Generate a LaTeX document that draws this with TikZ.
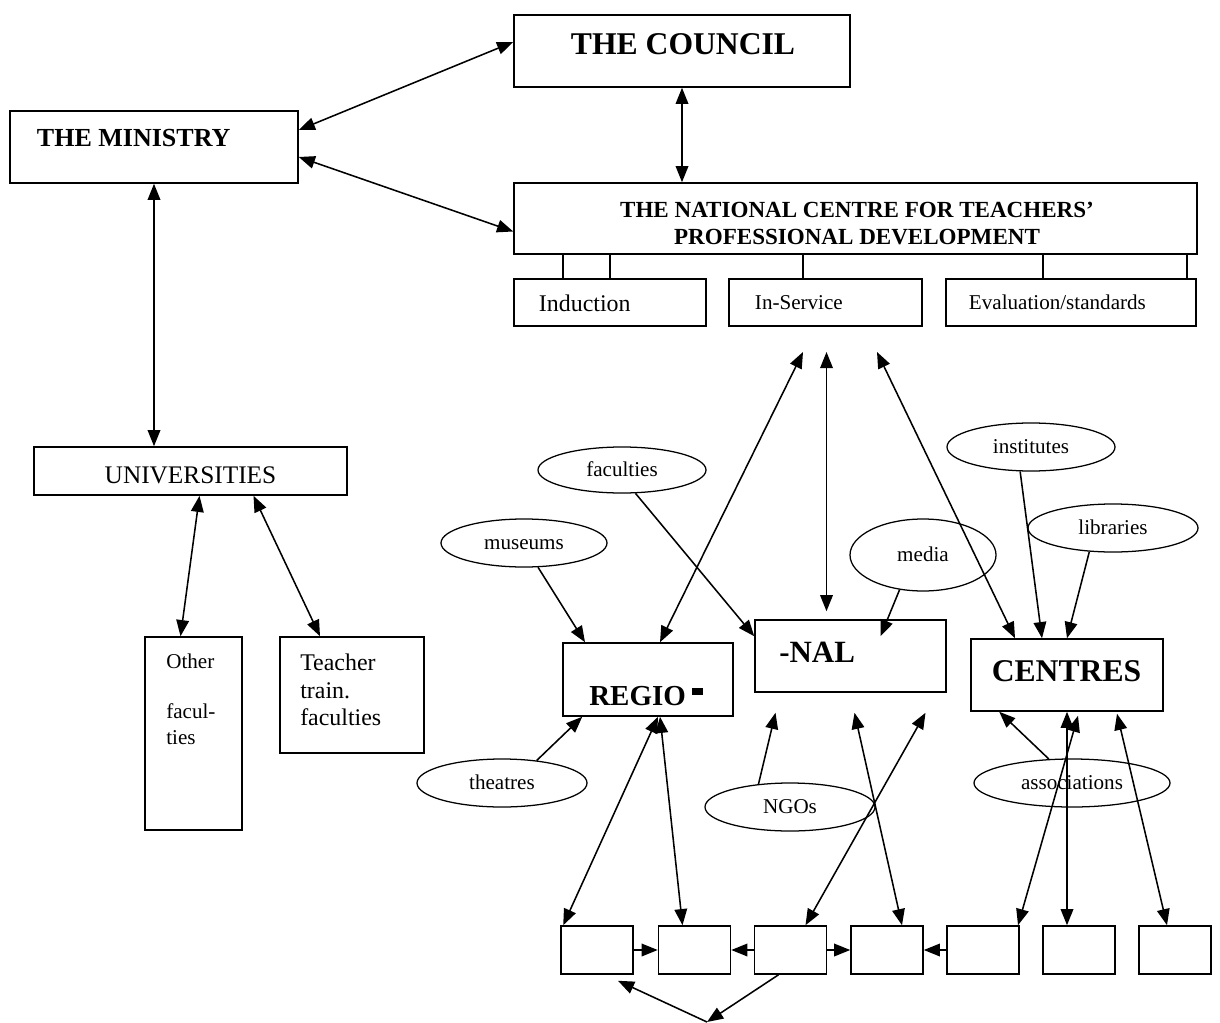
\documentclass[tikz,border=0pt]{standalone}
\usepackage{fontspec}
\setmainfont{Liberation Serif}
\usetikzlibrary{arrows.meta,shapes.geometric,calc}

\def\pix{0.025cm}

\tikzset{
  box/.style 2 args={draw, line width=1.1pt, inner sep=0pt,
    minimum width=#1*\pix, minimum height=#2*\pix},
  oval/.style 2 args={draw, ellipse, line width=0.9pt, inner sep=0pt,
    minimum width=#1*\pix, minimum height=#2*\pix,
    text height=1.9ex, text depth=0pt, font=\fontsize{15}{18}\selectfont},
  link/.style={line width=1.1pt},
}

\begin{document}
\begin{tikzpicture}[x=\pix, y=-\pix, >={Triangle[length=11.5pt,width=9pt]}]
    \useasboundingbox (0,0) rectangle (1220,1023);

    % Define boxes
    \node[box={336}{72}] (council) at (682,51) {};
    \node[box={288}{72}] (ministry) at (154,147) {};
    \node[box={683}{71}] (natcentre) at (855.5,218.5) {};
    \node[box={192}{47}] (induction) at (610,302.5) {};
    \node[box={193}{47}] (inservice) at (825.5,302.5) {};
    \node[box={250}{47}] (evaluation) at (1071,302.5) {};
    \node[box={313}{48}] (universities) at (190.5,471) {};
    \node[box={97}{193}] (otherfac) at (193.5,733.5) {};
    \node[box={144}{116}] (teachfac) at (352,695) {};
    \node[box={170}{73}] (regio) at (648,679.5) {};
    \node[box={191}{72}] (nal) at (850.5,656) {};
    \node[box={192}{72}] (centres) at (1067,675) {};

    % bottom row
    \foreach \n/\x in {1/597,2/694.5,3/790.5,4/887,5/983,6/1079,7/1175}
        \node[box={72}{48}] (b\n) at (\x,950) {};

    % texts
    \node[anchor=base, font=\fontsize{22.5}{27}\selectfont\bfseries] (councilT) at (683,55) {THE COUNCIL};
    \node[anchor=base west, font=\fontsize{18.5}{22}\selectfont\bfseries] (ministryT) at (32,147) {THE MINISTRY};
    \node[anchor=north, align=center, inner sep=0pt, font=\fontsize{16.4}{19.2}\selectfont\bfseries] (natcentreT) at (857,201.5)
        {THE NATIONAL CENTRE FOR TEACHERS’\\PROFESSIONAL DEVELOPMENT};
    \node[anchor=base west, font=\fontsize{17}{20}\selectfont] (inductionT) at (534,312) {Induction};
    \node[anchor=base west, font=\fontsize{15}{18}\selectfont] (inserviceT) at (750,309) {In-Service};
    \node[anchor=base west, font=\fontsize{15}{18}\selectfont] (evaluationT) at (964,309) {Evaluation/standards};
    \node[anchor=base, font=\fontsize{18}{21}\selectfont] (universitiesT) at (190.5,483) {UNIVERSITIES};
    \node[anchor=north west, align=left, inner sep=0pt, font=\fontsize{15}{17.8}\selectfont] (otherfacT) at (166,654)
        {Other\\ \\facul-\\ties};
    \node[anchor=north west, align=left, inner sep=0pt, font=\fontsize{17}{19.5}\selectfont] (teachfacT) at (300,654)
        {Teacher\\train.\\faculties};
    \node[anchor=base west, inner sep=0pt, font=\fontsize{20.6}{24}\selectfont\bfseries] (regioT) at (589,705)
        {REGIO\hspace{4.3pt}\rule[7.1pt]{7.8pt}{5pt}};
    \node[anchor=base west, inner sep=0pt, font=\fontsize{22}{26}\selectfont\bfseries] (nalT) at (779,662) {-NAL};
    \node[anchor=base, inner sep=0pt, font=\fontsize{22.5}{27}\selectfont\bfseries] (centresT) at (1066.5,681) {CENTRES};

    % ovals
    \node[oval={168}{46}] (faculties) at (622,470) {faculties};
    \node[oval={166}{48}] (museums) at (524,543) {museums};
    \node[oval={168}{48}] (institutes) at (1031,447) {institutes};
    \node[oval={170}{48}] (libraries) at (1113,528) {libraries};
    \node[oval={146}{72}] (media) at (923,555) {media};
    \node[oval={170}{48}] (theatres) at (502,783) {theatres};
    \node[oval={170}{48}] (ngos) at (790,807) {NGOs};
    \node[oval={196}{48}] (associations) at (1072,783) {associations};

    % free ends
    \coordinate (top1) at (803,352);
    \coordinate (top2) at (826.5,352);
    \coordinate (top3) at (877,352);
    \coordinate (apex) at (707,1022);

    % links at the top
    \draw[link,<->] ($(ministry.east)+(0,-17)$) -- ($(council.west)+(0,-9)$);
    \draw[link,<->] ($(ministry.east)+(0,10)$) -- ($(natcentre.west)+(0,13)$);
    \draw[link,<->] (council.south) -- (council.south |- natcentre.north);
    \draw[link,<->] (ministry.south) -- (ministry.south |- universities.north);
    \foreach \x in {563,610}
        \draw[link] (natcentre.south -| \x,0) -- (induction.north -| \x,0);
    \draw[link] (natcentre.south -| 803,0) -- (inservice.north -| 803,0);
    \foreach \x in {1043,1187}
        \draw[link] (natcentre.south -| \x,0) -- (evaluation.north -| \x,0);

    \draw[link,<->] ($(universities.south)+(9,0)$) -- ($(otherfac.north)+(-13,0)$);
    \draw[link,<->] ($(universities.south)+(63,0)$) -- ($(teachfac.north)+(-32,0)$);

    \draw[link,<->] (top1) -- ($(regio.north)+(12,0)$);
    \draw[link,<->] (top2) -- ($(nal.north)+(-24,-8)$);
    \draw[link,<->] (top3) -- ($(centres.north)+(-52,0)$);

    % ovals to centres
    \draw[link,->] (museums.-60) -- ($(regio.north)+(-63,0)$);
    \draw[link,->] (faculties.-60) -- ($(nal.north west)+(0,17)$);
    \draw[link,->] (media.236) -- ($(nal.north)+(30,17)$);
    \draw[link,->] (institutes.246) -- ($(centres.north)+(-25,0)$);
    \draw[link,->] (libraries.225) -- (centres.north);
    \draw[link,->] (theatres.33) -- ($(regio.south west)+(20,0)$);
    \draw[link,->] (ngos.144) -- ($(nal.south)+(-75,20)$);
    \draw[link,->] (associations.134) -- ($(centres.south west)+(29,0)$);

    % bottom row links
    \draw[link,<->] ($(b1.north west)+(3,0)$) -- ($(regio.south)+(10,0)$);
    \draw[link,<->] ($(b2.north)+(-12,0)$) -- ($(regio.south)+(12,0)$);
    \draw[link,<->] ($(b3.north)+(15,0)$) -- ($(nal.south)+(75,20)$);
    \draw[link,<->] ($(b4.north)+(15,0)$) -- ($(nal.south)+(4,20)$);
    \draw[link,<->] ($(b5.north)+(35,0)$) -- ($(centres.south)+(11,4)$);
    \draw[link,<->] ($(b6.north)+(-12,0)$) -- (centres.south);
    \draw[link,<->] ($(b7.north)+(-8,0)$) -- ($(centres.south)+(50,2)$);

    \draw[link,->] (b1.east) -- (b2.west);
    \draw[link,->] (b3.west) -- (b2.east);
    \draw[link,->] (b3.east) -- (b4.west);
    \draw[link,->] (b5.west) -- (b4.east);
    \draw[link,->] ($(b3.south)+(-12,0)$) -- (apex);
    \draw[link,->] (apex) -- ($(b1.south)+(21,6)$);
\end{tikzpicture}
\end{document}
